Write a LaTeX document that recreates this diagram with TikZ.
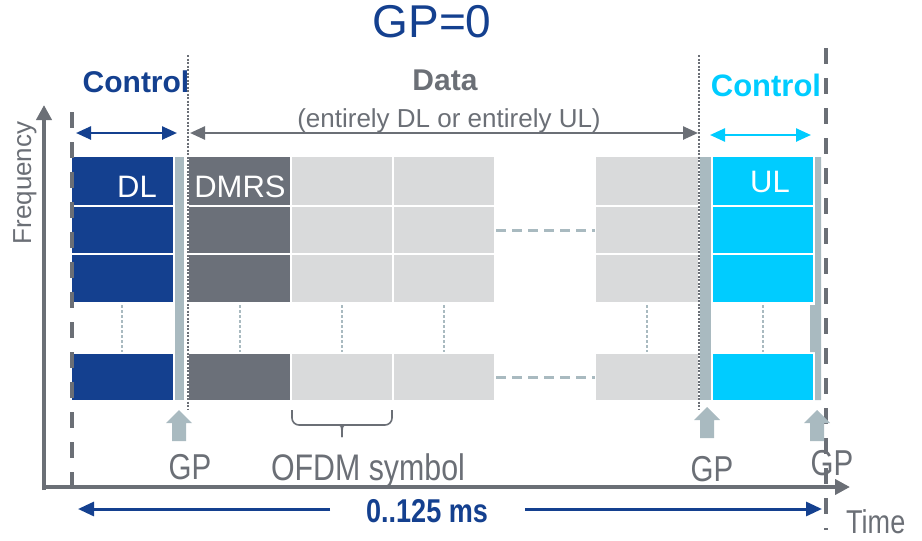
\documentclass[tikz,border=0pt]{standalone}
\usepackage{fontspec}
\setmainfont{Liberation Sans}
\newfontfamily\narrowfont{Liberation Sans}[FakeStretch=0.82]
\usetikzlibrary{arrows.meta}
\definecolor{navy}{RGB}{20,64,143}
\definecolor{dmrs}{RGB}{107,112,121}
\definecolor{lgray}{RGB}{217,218,219}
\definecolor{ulcyan}{RGB}{0,204,255}
\definecolor{gpcol}{RGB}{169,186,192}
\definecolor{axisgray}{RGB}{107,111,118}
\newcommand{\fs}[1]{\fontsize{#1}{#1}\selectfont}
\begin{document}
\begin{tikzpicture}[x=1pt,y=-1pt,
  axisline/.style={draw=axisgray,line width=4pt,-{Triangle[length=15pt,width=15pt]}},
  bounddash/.style={draw=axisgray,line width=4pt,dash pattern=on 16pt off 14pt},
  bounddot/.style={draw=axisgray,line width=2pt,dash pattern=on 2pt off 1.5pt},
  gapdash/.style={draw=gpcol,line width=1.4pt,dash pattern=on 3pt off 2pt},
  rowdash/.style={draw=gpcol,line width=3pt,dash pattern=on 10pt off 6pt},
  ctl/.style={line width=2.5pt,{Triangle[length=15pt,width=13pt]}-{Triangle[length=15pt,width=13pt]}},
  whitetxt/.style={text=white,font=\fs{31},inner sep=0pt},
  graytxt/.style={text=axisgray,inner sep=0pt},
  gparrow/.style={fill=gpcol}
]
\useasboundingbox (0,0) rectangle (922,541);

% blocks
\foreach \ya/\yb in {157/205,207/253,255/302,354/400}{
  \fill[navy]   (72,\ya) rectangle (173,\yb);
  \fill[dmrs]   (189,\ya) rectangle (290,\yb);
  \fill[lgray]  (292,\ya) rectangle (392,\yb);
  \fill[lgray]  (394,\ya) rectangle (494,\yb);
  \fill[lgray]  (596,\ya) rectangle (698,\yb);
  \fill[ulcyan] (713,\ya) rectangle (813,\yb);
}
% guard period strips
\fill[gpcol] (175,157) rectangle (184,400);
\fill[gpcol] (700,157) rectangle (711,400);
\fill[gpcol] (815,157) -- (821,157) -- (821,400) -- (815,400) -- (815,352) -- (810,352) -- (810,305) -- (815,305) -- cycle;

% dashed continuation lines
\foreach \x in {122,240,342,444,647,763}{
  \draw[gapdash] (\x,305) -- (\x,352);
}
\draw[rowdash] (496,230) -- (595,230);
\draw[rowdash] (496,377) -- (595,377);

% axes
\coordinate (origin) at (44,490);
\coordinate (ftop) at (44,105);
\coordinate (tend) at (850,487);
\draw[axisline] (origin) -- (ftop);
\draw[axisline] (42,487) -- (tend);

% boundaries
\draw[bounddash] (72,112) -- (72,495);
\draw[bounddash] (826,48) -- (826,530);
\draw[bounddot] (188,55) -- (188,410);
\draw[bounddot] (699,55) -- (699,410);

% control / data arrows
\coordinate (cl1) at (76,133); \coordinate (cl2) at (177,133);
\coordinate (d1) at (190,133);  \coordinate (d2) at (698,133);
\coordinate (cr1) at (710,135); \coordinate (cr2) at (811,135);
\draw[ctl,navy] (cl1) -- (cl2);
\draw[ctl,axisgray] (d1) -- (d2);
\draw[ctl,ulcyan] (cr1) -- (cr2);

% labels
\node[text=navy,font=\fs{46},inner sep=0pt] (title) at (432,22) {GP=0};
\node[text=navy,font=\bfseries\fs{30},inner sep=0pt] (ctlL) at (136,82) {Control};
\node[text=axisgray,font=\bfseries\fs{30},inner sep=0pt] (data) at (445,80) {Data};
\node[text=axisgray,font=\fs{26},inner sep=0pt,anchor=base] (dataexp) at (449,127) {(entirely DL or entirely UL)};
\node[text=ulcyan,font=\bfseries\fs{31},inner sep=0pt] (ctlR) at (766,85) {Control};
\node[whitetxt] (dl) at (137,187) {DL};
\node[whitetxt] (dmrs) at (240,187) {DMRS};
\node[whitetxt] (ul) at (770,182) {UL};
\node[graytxt,font=\fs{26},rotate=90] (freq) at (25,183) {Frequency};

% GP arrows
\foreach \cx/\ty [count=\i] in {179/410,707/407,817/410}{
  \fill[gparrow] (\cx,\ty) -- (\cx+13,\ty+13) -- (\cx+7,\ty+13) -- (\cx+7,\ty+31)
     -- (\cx-7,\ty+31) -- (\cx-7,\ty+13) -- (\cx-13,\ty+13) -- cycle;
}
\node[graytxt,font=\narrowfont\fs{36}] (gp1) at (190,467) {GP};
\node[graytxt,font=\narrowfont\fs{36}] (gp2) at (712,469) {GP};
\node[graytxt,font=\narrowfont\fs{36}] (gp3) at (832,463) {GP};

% OFDM symbol brace
\draw[axisgray,line width=1.6pt,rounded corners=7pt] (292,410) -- (292,425) -- (338,425)
   .. controls (342,425) and (342,428) .. (342,437);
\draw[axisgray,line width=1.6pt,rounded corners=7pt] (392,410) -- (392,425) -- (346,425)
   .. controls (342,425) and (342,428) .. (342,437);
\node[graytxt,font=\narrowfont\fs{37},anchor=base] (ofdm) at (368,480) {OFDM symbol};

% duration
\node[text=navy,font=\narrowfont\bfseries\fs{33},inner sep=0pt] (dur) at (427,511) {0..125 ms};
\coordinate (durL) at (78,509);
\coordinate (durR) at (822,509);
\draw[navy,line width=3pt,-{Triangle[length=16pt,width=14pt]}] (330,509) -- (durL);
\draw[navy,line width=3pt,-{Triangle[length=16pt,width=14pt]}] (525,509) -- (durR);
\node[graytxt,font=\narrowfont\fs{33},anchor=base west] (time) at (846,533) {Time};
\end{tikzpicture}
\end{document}
